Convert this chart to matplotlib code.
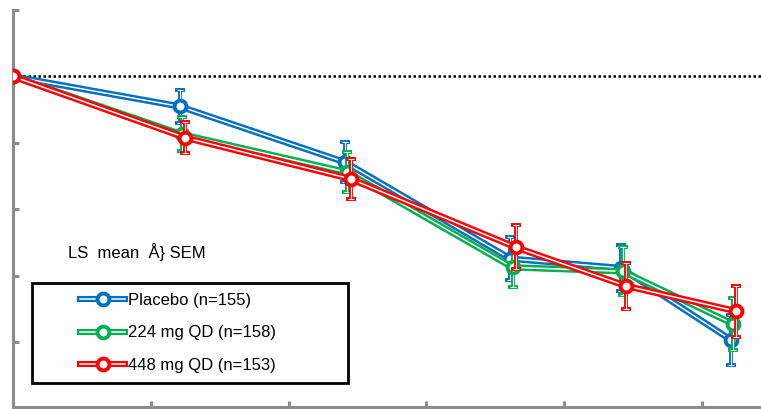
import matplotlib
matplotlib.use("Agg")
import matplotlib.pyplot as plt
from matplotlib.lines import Line2D
from matplotlib.legend_handler import HandlerTuple
from matplotlib.patches import Rectangle

weeks = [0, 12, 24, 36, 44, 52]
x_ticks = [0, 10, 20, 30, 40, 50]

placebo = [0, -0.45, -1.29, -2.74, -2.88, -3.96]
placebo_sem = [0, 0.25, 0.30, 0.32, 0.345, 0.375]
dose224 = [0, -0.87, -1.44, -2.87, -2.93, -3.72]
dose224_sem = [0, 0.255, 0.30, 0.30, 0.36, 0.39]
dose448 = [0, -0.92, -1.54, -2.57, -3.15, -3.53]
dose448_sem = [0, 0.23, 0.30, 0.33, 0.345, 0.38]

labels = ["Placebo (n=155)", "224 mg QD (n=158)", "448 mg QD (n=153)"]
colors = ["#0070C0", "#00B050", "#FF0000"]
offsets = [0.1, 0.25, 0.5]
y_ticks = [1, 0, -1, -2, -3, -4]

W, H = 761, 409
fig = plt.figure(figsize=(W / 100, H / 100), dpi=100)
ax = fig.add_axes([13 / W, (H - 407) / H, (W - 13) / W, (407 - 10) / H])
ax.set_xlim(0, (W - 13) / 13.78)
ax.set_ylim(-4.97, 1.0)

gray = "#8c8c8c"
for s in ["top", "right"]:
    ax.spines[s].set_visible(False)
for s in ["left", "bottom"]:
    ax.spines[s].set_color(gray)
    ax.spines[s].set_linewidth(2.2)
ax.set_xticks(x_ticks)
ax.set_yticks(y_ticks)
ax.set_xticklabels([])
ax.set_yticklabels([])
ax.tick_params(axis="both", direction="in", color=gray, width=2.2, length=4)

ax.axhline(0, color="black", lw=1.8, ls=(0, (1, 1)), zorder=1)

series = [(placebo, placebo_sem), (dose224, dose224_sem), (dose448, dose448_sem)]
handles = []
for i, ((vals, sem), c, off, lab) in enumerate(zip(series, colors, offsets, labels)):
    xs = [w + (off if w > 0 else 0) for w in weeks]
    z = 3 + i * 3
    ax.errorbar(xs, vals, yerr=sem, fmt="none", ecolor=c, elinewidth=2.8,
                capsize=3.5, capthick=2.8, zorder=z)
    ax.errorbar(xs, vals, yerr=sem, fmt="none", ecolor="white", elinewidth=0.8,
                capsize=2.0, capthick=0.7, zorder=z + 0.1)
    ax.plot(xs, vals, color=c, lw=4.6, solid_capstyle="butt", zorder=z + 0.2)
    ax.plot(xs, vals, color="white", lw=1.1, zorder=z + 0.3)
    ax.plot(xs, vals, ls="none", marker="o", ms=8.5, mfc="white", mec=c, mew=2.8,
            zorder=z + 0.4)
    h = (Line2D([], [], color=c, lw=4.4),
         Line2D([], [], color="white", lw=1.1),
         Line2D([], [], ls="none", marker="o", ms=8.5, mfc="white", mec=c, mew=2.8))
    handles.append(h)

font = "Liberation Sans"
leg = fig.legend(handles, labels,
                 handler_map={tuple: HandlerTuple(ndivide=1, pad=0)},
                 loc="upper left", bbox_to_anchor=(80 / W, 1 - 293 / H),
                 bbox_transform=fig.transFigure, frameon=False, borderpad=0,
                 borderaxespad=0, handlelength=2.7, handletextpad=0.2,
                 labelspacing=1.05, prop={"family": font, "size": 12})

fig.patches.append(Rectangle((32 / W, 1 - 383 / H), (348 - 32) / W, (383 - 283) / H,
                             transform=fig.transFigure, fill=False, ec="black",
                             lw=2.0, zorder=10))

fig.text(68 / W, 1 - 252 / H, "LS  mean  Å} SEM", family=font, size=12,
         va="center", ha="left")

fig.savefig("out.png", dpi=100)
